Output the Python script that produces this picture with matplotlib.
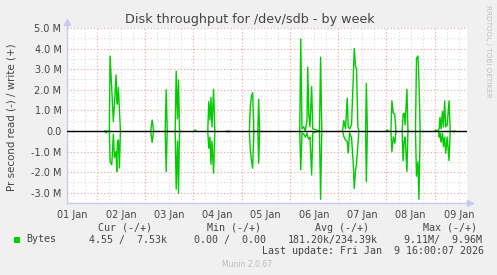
import matplotlib
matplotlib.use('Agg')
import matplotlib.pyplot as plt
import numpy as np

# time in days since 01 Jan 00:00
times = [1.172, 1.193, 1.214,
         1.261, 1.276, 1.311, 1.344, 1.365, 1.400, 1.415, 1.427, 1.448, 1.469, 1.490,
         2.116, 2.147, 2.178,
         2.417, 2.438, 2.459,
         2.624, 2.645, 2.672, 2.693, 2.714,
         3.019, 3.039, 3.060,
         3.299, 3.320, 3.344, 3.365, 3.386, 3.419, 3.444,
         3.693, 3.714, 3.735,
         4.160, 4.180, 4.201, 4.228, 4.253,
         4.336, 4.353, 4.373,
         5.203, 5.224, 5.249, 5.286, 5.321, 5.353, 5.369, 5.390, 5.415, 5.450, 5.473,
         5.612, 5.635, 5.660,
         6.089, 6.116, 6.151, 6.187, 6.207, 6.234, 6.276, 6.311, 6.332, 6.359, 6.380, 6.407, 6.428,
         6.567, 6.583, 6.604,
         6.996, 7.017, 7.038,
         7.091, 7.112, 7.141, 7.172, 7.195,
         7.324, 7.344, 7.365, 7.386, 7.423, 7.444,
         7.600, 7.621, 7.651, 7.672, 7.697,
         7.998, 8.019, 8.040,
         8.075, 8.091, 8.108, 8.129, 8.158, 8.178, 8.205, 8.226, 8.257, 8.295, 8.320,
         8.377, 8.398, 8.419]

# write bytes/s (millions)
write_mb = [0, 0, 0,
            0, 3.64, 2.0, 0.45, 1.26, 2.72, 1.5, 1.3, 2.12, 1.0, 0,
            0, 0.53, 0,
            0, 2.0, 0,
            0, 2.91, 0.6, 2.48, 0,
            0, 0.05, 0,
            0, 1.42, 0.53, 1.63, 0.2, 2.02, 0,
            0, 0, 0,
            0, 1.2, 1.67, 1.86, 0,
            0, 1.54, 0,
            0, 4.47, 0.1, 0.2, 0, 0.5, 3.1, 0.86, 0.2, 2.16, 0.1,
            0, 3.58, 0,
            0, 0.5, 0.1, 1.59, 0.2, 0.1, 0.3, 2.5, 4.01, 3.12, 3.04, 0.2, 0,
            0, 2.31, 0,
            0, 0.05, 0,
            0, 1.46, 0.86, 0.82, 0,
            0, 0.82, 0.86, 0.3, 2.02, 0,
            0, 3.53, 3.64, 2.5, 0,
            0, 0.05, 0,
            0.03, 0.1, 0.66, 0.1, 0.94, 0.2, 1.46, 0.2, 0.3, 1.46, 0,
            0, 0, 0]

# read bytes/s (millions), drawn negative
read_mb = [0, 0.1, 0,
           0, 1.49, 1.65, 0.15, 1.3, 1.0, 1.97, 0.6, 0.44, 1.8, 0,
           0, 0.55, 0,
           0, 1.97, 0,
           0, 2.83, 0.5, 3.03, 0,
           0, 0, 0,
           0, 0.84, 0.3, 1.62, 0.5, 2.05, 0,
           0, 0.05, 0,
           0, 0.92, 1.4, 1.81, 0,
           0, 1.57, 0,
           0, 1.89, 0.1, 0.15, 0.3, 0.1, 0.27, 0.4, 0.3, 2.14, 0.1,
           0, 3.32, 0,
           0, 0.27, 0.44, 0.5, 1.08, 0.1, 0.3, 1.57, 2.8, 1.9, 1.57, 0.7, 0,
           0, 2.46, 0,
           0, 0, 0,
           0, 1.0, 0.3, 0.6, 0,
           0, 1.45, 0.5, 0.3, 1.97, 0,
           0, 2.2, 1.5, 3.32, 0,
           0, 0, 0,
           0, 0.3, 0.1, 0.55, 0.1, 0.76, 0.3, 1.08, 0.3, 1.44, 0,
           0, 0.05, 0]

day_labels = ['01 Jan', '02 Jan', '03 Jan', '04 Jan', '05 Jan',
              '06 Jan', '07 Jan', '08 Jan', '09 Jan']
y_ticks = [-3, -2, -1, 0, 1, 2, 3, 4, 5]
y_labels = ['-3.0 M', '-2.0 M', '-1.0 M', '0.0', '1.0 M', '2.0 M', '3.0 M', '4.0 M', '5.0 M']

legend_headers = ['Cur (-/+)', 'Min (-/+)', 'Avg (-/+)', 'Max (-/+)']
legend_values = ['4.55 /  7.53k', '0.00 /  0.00', '181.20k/234.39k', '9.11M/  9.96M']

W, H = 497, 275
fig = plt.figure(figsize=(W / 100, H / 100), dpi=100, facecolor='#F0F0F0')

def fx(px):
    return px / W

def fy(py):
    return 1 - py / H

ax = fig.add_axes([fx(67), fy(203), 400 / W, 175 / H])
ax.set_facecolor('white')

xmin, xmax = 0.384, 8.667
ax.set_xlim(xmin, xmax)
ax.set_ylim(-3.5, 5.0)

# grids
grid_gray = '#D8D8D8'
grid_red = '#EFA0A0'
for k in range(1, 36):
    d = k * 0.25
    if xmin < d < xmax and abs(d - round(d)) > 1e-6:
        ax.axvline(d, color=grid_gray, lw=0.8, ls=(0, (1, 2)), zorder=1)
for v in np.arange(-3.5, 5.01, 0.5):
    if abs(v - round(v)) > 1e-6:
        ax.axhline(v, color=grid_gray, lw=0.8, ls=(0, (1, 2)), zorder=1)
for d in range(1, 9):
    ax.axvline(d, color=grid_red, lw=0.8, ls=(0, (1, 2)), zorder=1.5)
for v in y_ticks:
    ax.axhline(v, color=grid_red, lw=0.8, ls=(0, (1, 2)), zorder=1.5)


def break_idle(ts, vals):
    """Break the line wherever two consecutive samples are both zero, so idle
    stretches are left to the black zero line."""
    xs, ys = [], []
    for i in range(len(vals)):
        xs.append(ts[i])
        ys.append(float(vals[i]))
        if i < len(vals) - 1 and vals[i] == 0 and vals[i + 1] == 0:
            xs.append(np.nan)
            ys.append(np.nan)
    return np.array(xs), np.array(ys)


wx, wy = break_idle(times, write_mb)
rx, ry = break_idle(times, read_mb)
ax.plot(wx, wy, color='#00CC00', lw=1.0, zorder=3)
ax.plot(rx, -ry, color='#00CC00', lw=1.0, zorder=3)
ax.axhline(0, color='black', lw=1.0, zorder=4)

ax.set_xticks([d + 0.5 for d in range(len(day_labels))])
ax.set_xticklabels(day_labels)
ax.set_yticks(y_ticks)
ax.set_yticklabels(y_labels)
ax.tick_params(axis='both', length=0, labelsize=7, colors='#444444', pad=4)
ax.tick_params(axis='x', pad=5)

for s in ['top', 'right']:
    ax.spines[s].set_visible(False)
for s in ['left', 'bottom']:
    ax.spines[s].set_color('#C8C8F0')
    ax.spines[s].set_linewidth(1.0)

# axis arrows
ax.plot([0], [1.035], marker='^', color='#C8C8F0', markersize=5, transform=ax.transAxes, clip_on=False)
ax.plot([0, 0], [1.0, 1.035], color='#C8C8F0', lw=1.0, transform=ax.transAxes, clip_on=False)
ax.plot([1.0, 1.008], [0, 0], color='#C8C8F0', lw=1.0, transform=ax.transAxes, clip_on=False)
ax.plot([1.008], [0], marker='>', color='#C8C8F0', markersize=5, transform=ax.transAxes, clip_on=False)

# texts
fig.text(fx(250), fy(20), 'Disk throughput for /dev/sdb - by week', ha='center', va='center',
         fontsize=9.2, color='#444444')
fig.text(fx(12), fy(117), 'Pr second read (-) / write (+)', ha='center', va='center',
         rotation=90, fontsize=7.4, color='#444444')
fig.text(fx(488), fy(5), 'RRDTOOL / TOBI OETIKER', ha='center', va='top',
         rotation=270, fontsize=5.2, color='#C0C0C0')

mono = 'DejaVu Sans Mono'
hx = [98, 207, 315, 423]
for x, s in zip(hx, legend_headers):
    fig.text(fx(x), fy(228), s, ha='left', va='center', family=mono, fontsize=7.2, color='#444444')
vx = [89, 194, 288, 404]
for x, s in zip(vx, legend_values):
    fig.text(fx(x), fy(239.5), s, ha='left', va='center', family=mono, fontsize=7.2, color='#444444')
fig.patches.append(plt.Rectangle((fx(14), fy(242.5)), 5.5 / W, 5.5 / H, transform=fig.transFigure,
                                 facecolor='#00CC00', edgecolor='none'))
fig.text(fx(26.7), fy(239.5), 'Bytes', ha='left', va='center', family=mono, fontsize=7.2, color='#444444')
fig.text(fx(261.7), fy(251), 'Last update: Fri Jan  9 16:00:07 2026', ha='left', va='center',
         family=mono, fontsize=7.2, color='#444444')
fig.text(fx(247.5), fy(264.5), 'Munin 2.0.67', ha='center', va='center', fontsize=5.5, color='#BBBBBB')

fig.savefig('out.png', dpi=100, facecolor=fig.get_facecolor())
